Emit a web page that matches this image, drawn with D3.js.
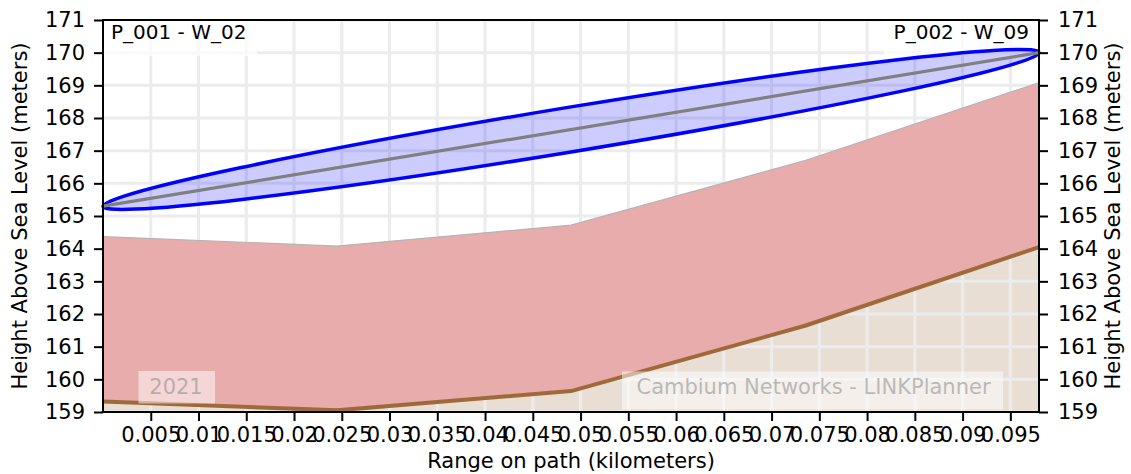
<!DOCTYPE html>
<html>
<head>
<meta charset="utf-8">
<script src="https://cdn.jsdelivr.net/npm/d3@7"></script>
<style>
  html, body { margin: 0; padding: 0; background: #ffffff; }
  svg { display: block; font-family: "DejaVu Sans", sans-serif; }
</style>
</head>
<body>
<svg id="chart" width="1131" height="474"></svg>
<script>
// ---- data ----
const rangeKm      = [0, 0.0245, 0.049, 0.0735, 0.098];
const terrainM     = [159.32, 159.05, 159.64, 161.64, 164.05];
const obstructionM = [164.37, 164.08, 164.72, 166.70, 169.08];
const losStart     = { x: 0,     y: 165.3 };
const losEnd       = { x: 0.098, y: 170.0 };
const fresnelHalf  = 0.69;   // metres, at mid path
const xTickValues  = [0.005, 0.01, 0.015, 0.02, 0.025, 0.03, 0.035, 0.04, 0.045, 0.05,
                      0.055, 0.06, 0.065, 0.07, 0.075, 0.08, 0.085, 0.09, 0.095];
const xTickLabels  = ["0.005", "0.01", "0.015", "0.02", "0.025", "0.03", "0.035", "0.04", "0.045", "0.05",
                      "0.055", "0.06", "0.065", "0.07", "0.075", "0.08", "0.085", "0.09", "0.095"];
const yTickValues  = [159, 160, 161, 162, 163, 164, 165, 166, 167, 168, 169, 170, 171];
const siteLeft     = "P_001 - W_02";
const siteRight    = "P_002 - W_09";
const xTitle       = "Range on path (kilometers)";
const yTitle       = "Height Above Sea Level (meters)";
const watermarkYear = "2021";
const watermarkText = "Cambium Networks - LINKPlanner";

// ---- layout ----
const W = 1131, H = 474;
const m = { left: 103, right: 92, top: 20, bottom: 62 };
const FS = 21;
const svg = d3.select("#chart");

const x = d3.scaleLinear().domain([0, 0.098]).range([m.left, W - m.right]);
const y = d3.scaleLinear().domain([159, 171]).range([H - m.bottom, m.top]);

const plot = svg.append("g");
plot.append("clipPath").attr("id", "clip").append("rect")
  .attr("x", m.left).attr("y", m.top)
  .attr("width", W - m.left - m.right).attr("height", H - m.top - m.bottom);
const g = plot.append("g").attr("clip-path", "url(#clip)");

const pts = rangeKm.map((r, i) => ({ r, t: terrainM[i], o: obstructionM[i] }));

// terrain fill (beige)
g.append("path").datum(pts)
  .attr("d", d3.area().x(d => x(d.r)).y0(y(159)).y1(d => y(d.t)))
  .attr("fill", "#e8ded4");

// grid
g.append("g").selectAll("line").data(xTickValues).join("line")
  .attr("x1", d => x(d)).attr("x2", d => x(d))
  .attr("y1", m.top).attr("y2", H - m.bottom)
  .attr("stroke", "#ececec").attr("stroke-width", 3);
g.append("g").selectAll("line").data(yTickValues).join("line")
  .attr("x1", m.left).attr("x2", W - m.right)
  .attr("y1", d => y(d)).attr("y2", d => y(d))
  .attr("stroke", "#ececec").attr("stroke-width", 3);

// obstruction (pink)
g.append("path").datum(pts)
  .attr("d", d3.area().x(d => x(d.r)).y0(d => y(d.t)).y1(d => y(d.o)))
  .attr("fill", "#e8acac");
g.append("path").datum(pts)
  .attr("d", d3.line().x(d => x(d.r)).y(d => y(d.o)))
  .attr("fill", "none").attr("stroke", "#b4b4b4").attr("stroke-width", 1.2);

// terrain line
g.append("path").datum(pts)
  .attr("d", d3.line().x(d => x(d.r)).y(d => y(d.t)))
  .attr("fill", "none").attr("stroke", "#a0693a").attr("stroke-width", 4)
  .attr("stroke-linejoin", "round");

// site label boxes (under the ellipse)
plot.append("rect").attr("x", m.left + 1).attr("y", m.top + 1).attr("width", 153).attr("height", 35)
  .attr("fill", "#ffffff").attr("fill-opacity", 0.7);
plot.append("rect").attr("x", W - m.right - 155).attr("y", m.top + 1).attr("width", 154).attr("height", 35)
  .attr("fill", "#ffffff").attr("fill-opacity", 0.7);

// Fresnel ellipse: affine image of a unit circle
const cx = (x(losStart.x) + x(losEnd.x)) / 2;
const cy = (y(losStart.y) + y(losEnd.y)) / 2;
const ax = (x(losEnd.x) - x(losStart.x)) / 2;
const ay = (y(losEnd.y) - y(losStart.y)) / 2;
const hp = y(165) - y(165 + fresnelHalf);
plot.append("circle")
  .attr("cx", 0).attr("cy", 0).attr("r", 1)
  .attr("transform", `matrix(${ax},${ay},0,${hp},${cx},${cy})`)
  .attr("fill", "#0000ff").attr("fill-opacity", 0.2)
  .attr("stroke", "#0000ff").attr("stroke-width", 3.5)
  .attr("vector-effect", "non-scaling-stroke");

// line of sight
plot.append("line")
  .attr("x1", x(losStart.x)).attr("y1", y(losStart.y))
  .attr("x2", x(losEnd.x)).attr("y2", y(losEnd.y))
  .attr("stroke", "#808080").attr("stroke-width", 3.2);

// watermarks
function watermark(txt, x0, x1, y0, y1, tx, base) {
  plot.append("rect").attr("x", x0).attr("y", y0).attr("width", x1 - x0).attr("height", y1 - y0)
    .attr("fill", "#ffffff").attr("fill-opacity", 0.5);
  plot.append("text").attr("x", tx).attr("y", base).attr("text-anchor", "middle")
    .attr("font-size", FS).attr("fill", "#808080").attr("fill-opacity", 0.5).text(txt);
}
watermark(watermarkYear, 138.5, 215, 371, 403.5, 176, 393.5);
watermark(watermarkText, 622, 1003, 371.5, 409.5, 813.5, 393.5);

// site labels
plot.append("text").attr("x", 111).attr("y", 39).attr("font-size", 20).attr("fill", "#000").text(siteLeft);
plot.append("text").attr("x", 1029).attr("y", 39).attr("text-anchor", "end")
  .attr("font-size", 20).attr("fill", "#000").text(siteRight);

// frame
svg.append("rect").attr("x", m.left).attr("y", m.top)
  .attr("width", W - m.left - m.right).attr("height", H - m.top - m.bottom)
  .attr("fill", "none").attr("stroke", "#000").attr("stroke-width", 2);

// axes
function styleAxis(sel) {
  sel.select(".domain").remove();
  sel.selectAll(".tick line").attr("stroke", "#000").attr("stroke-width", 2);
  sel.selectAll(".tick text").attr("font-size", FS).attr("fill", "#000")
    .attr("font-family", "DejaVu Sans, sans-serif");
}
svg.append("g").attr("transform", `translate(0,${H - m.bottom})`)
  .call(d3.axisBottom(x).tickValues(xTickValues).tickFormat((d, i) => xTickLabels[i]).tickSize(9).tickPadding(6))
  .call(styleAxis);
svg.append("g").attr("transform", `translate(${m.left},0)`)
  .call(d3.axisLeft(y).tickValues(yTickValues).tickFormat(d3.format("d")).tickSize(9).tickPadding(9))
  .call(styleAxis);
svg.append("g").attr("transform", `translate(${W - m.right},0)`)
  .call(d3.axisRight(y).tickValues(yTickValues).tickFormat(d3.format("d")).tickSize(9).tickPadding(10))
  .call(styleAxis);

// titles
svg.append("text").attr("x", (m.left + W - m.right) / 2).attr("y", 468).attr("text-anchor", "middle")
  .attr("font-size", FS).attr("fill", "#000").text(xTitle);
svg.append("text").attr("transform", `translate(27,${(m.top + H - m.bottom) / 2}) rotate(-90)`)
  .attr("text-anchor", "middle").attr("font-size", FS).attr("fill", "#000").text(yTitle);
svg.append("text").attr("transform", `translate(1120,${(m.top + H - m.bottom) / 2}) rotate(-90)`)
  .attr("text-anchor", "middle").attr("font-size", FS).attr("fill", "#000").text(yTitle);
</script>
</body>
</html>
